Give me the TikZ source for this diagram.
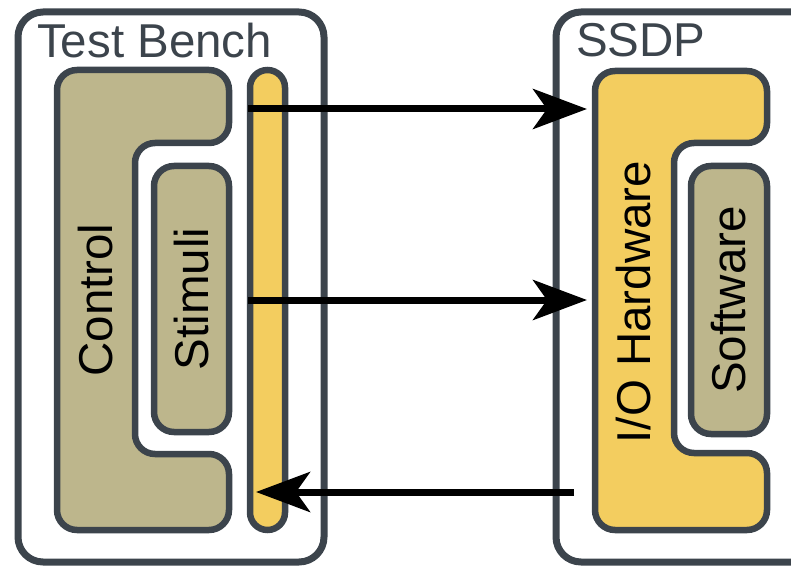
\documentclass[tikz,border=0pt]{standalone}
\usepackage{fontspec}
\setmainfont{Liberation Sans}
\usetikzlibrary{arrows.meta}
\definecolor{frame}{RGB}{60,68,76}
\definecolor{khaki}{RGB}{189,182,140}
\definecolor{gold}{RGB}{243,205,95}
\tikzset{
  outer/.style={draw=frame, line width=7pt, rounded corners=25pt},
  block/.style={draw=frame, line width=6.5pt, rounded corners=20pt},
  caption/.style={font=\fontsize{47.5}{52}\selectfont, inner sep=0pt},
  heading/.style={caption, text=frame, anchor=base west},
  flow/.style={line width=7pt, -{Stealth[length=54pt,width=40pt,inset=14pt]}}
}
\begin{document}
\begin{tikzpicture}[x=1pt, y=-1pt]
\useasboundingbox (0,0) rectangle (791,569);
\clip (0,0) rectangle (791,569);

\draw[outer] (18,12) rectangle (324,562);
\draw[outer] (556,12) rectangle (840,562);
\node[heading] (bench) at (37,58) {Test Bench};
\node[heading] (ssdp) at (576,57) {SSDP};

\draw[block, fill=khaki] (57,70) -- (229,70) -- (229,143) -- (135,143) -- (135,454) -- (229,454) -- (229,530) -- (57,530) -- cycle;
\node[caption, rotate=90] (control) at (96,300) {Control};
\node[block, caption, fill=khaki, rotate=90, minimum width=266pt, minimum height=75pt] (stimuli) at (191.5,299) {Stimuli};
\node[block, fill=gold, rounded corners=17.5pt, inner sep=0pt, minimum width=35pt, minimum height=460pt] (bar) at (267.5,300) {};

\draw[block, fill=gold] (595,71) -- (767,71) -- (767,143) -- (674,143) -- (674,453) -- (767,453) -- (767,530) -- (595,530) -- cycle;
\node[caption, rotate=90] (iohw) at (634,302) {I/O Hardware};
\node[block, caption, fill=khaki, rotate=90, minimum width=268pt, minimum height=76pt] (software) at (729,300) {Software};

\foreach \y/\n in {109/1,300/2}
{
    \coordinate (src\n) at (248,\y);
    \coordinate (dst\n) at (587,\y);
    \draw[flow] (src\n) -- (dst\n);
}
\coordinate (src3) at (574,492);
\coordinate (dst3) at (256,492);
\draw[flow] (src3) -- (dst3);
\end{tikzpicture}
\end{document}
